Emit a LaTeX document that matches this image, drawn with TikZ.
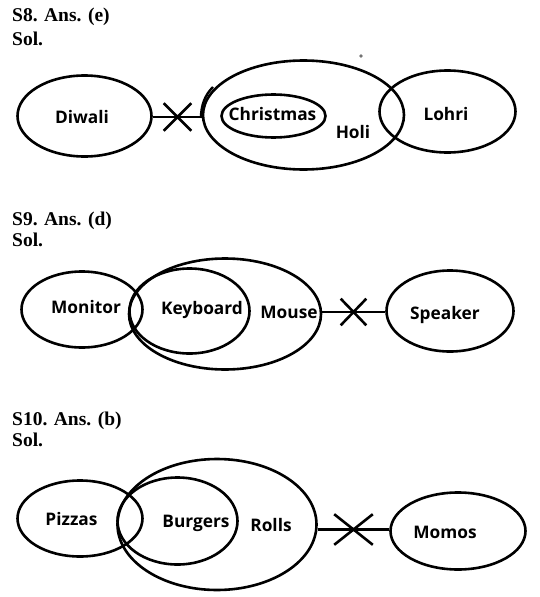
\documentclass[tikz,border=0pt]{standalone}
\usepackage{fontspec}
\setmainfont{Liberation Serif}
\newfontfamily\lblfont{Open Sans}
\usetikzlibrary{shapes.geometric,shapes.misc}
\tikzset{
  ell/.style={draw, ellipse, line width=2.6pt, inner sep=0pt},
  lbl/.style={font=\lblfont\bfseries\fontsize{17.3}{19}\selectfont, inner sep=0pt, anchor=base},
  hdr/.style={font=\bfseries\fontsize{19.5}{22}\selectfont, anchor=base west, inner sep=0pt},
  conn/.style={line width=2.6pt},
  crossmark/.style={draw, cross out, line width=2.6pt, inner sep=0pt},
}
\begin{document}
\begin{tikzpicture}[x=1pt,y=-1pt]
\fill[white] (0,0) rectangle (539,597);
\useasboundingbox (0,0) rectangle (539,597);

% ---------- S8 ----------
\node[hdr] (h8) at (12,21.7) {S8. Ans. (e)};
\node[hdr] (s8) at (12,45) {Sol.};
\node[ell, minimum width=134pt, minimum height=81pt] (diwali) at (84.5,116) {};
\node[ell, minimum width=201pt, minimum height=109pt] (holi) at (303.5,115) {};
\node[ell, minimum width=104pt, minimum height=43pt] (christmas) at (273.5,116) {};
\node[ell, minimum width=136pt, minimum height=82pt] (lohri) at (447.5,111.5) {};
\node[lbl] (tdiwali) at (82,123.3) {Diwali};
\node[lbl] (tchristmas) at (272.5,120.7) {Christmas};
\node[lbl] (tholi) at (353,138.3) {Holi};
\node[lbl] (tlohri) at (446,120.7) {Lohri};
\node[crossmark, minimum width=25pt, minimum height=25pt] (x8) at (177.5,117) {};
\draw[conn] (x8 -| diwali.east) -- (x8 -| holi.west);
\draw[line width=2.4pt] (213,87) .. controls (205,95) and (201,105) .. (201,118);
\fill[black!55] (361,56) circle (1.8pt);

% ---------- S9 ----------
\node[hdr] (h9) at (12,225) {S9. Ans. (d)};
\node[hdr] (s9) at (12,246.7) {Sol.};
\node[ell, minimum width=121pt, minimum height=76pt] (monitor) at (82,309.5) {};
\node[ell, minimum width=192pt, minimum height=111pt] (mouse) at (225,314) {};
\node[ell, minimum width=120pt, minimum height=85pt] (keyboard) at (189.5,311) {};
\node[ell, minimum width=127pt, minimum height=81pt] (speaker) at (450,311) {};
\node[lbl] (tmonitor) at (86,313.3) {Monitor};
\node[lbl] (tkeyboard) at (202,314.5) {Keyboard};
\node[lbl] (tmouse) at (289,318.3) {Mouse};
\node[lbl] (tspeaker) at (445,319.5) {Speaker};
\node[crossmark, minimum width=23pt, minimum height=24pt] (x9) at (353.5,312) {};
\draw[conn] (x9 -| mouse.east) -- (x9 -| speaker.west);

% ---------- S10 ----------
\node[hdr] (h10) at (12,425) {S10. Ans. (b)};
\node[hdr] (s10) at (12,446.7) {Sol.};
\node[ell, minimum width=125pt, minimum height=76pt] (pizzas) at (80,518.5) {};
\node[ell, minimum width=199pt, minimum height=131pt] (rolls) at (217,524.5) {};
\node[ell, minimum width=120pt, minimum height=87pt] (burgers) at (177.5,521) {};
\node[ell, minimum width=135pt, minimum height=77pt] (momos) at (458,531) {};
\node[lbl] (tpizzas) at (71.5,525) {Pizzas};
\node[lbl] (tburgers) at (196,527.5) {Burgers};
\node[lbl] (trolls) at (271,531.7) {Rolls};
\node[lbl] (tmomos) at (445,538.3) {Momos};
\node[crossmark, minimum width=36pt, minimum height=28pt] (x10) at (353.5,529.5) {};
\draw[conn] (x10 -| rolls.east) -- (x10 -| momos.west);
\end{tikzpicture}
\end{document}
